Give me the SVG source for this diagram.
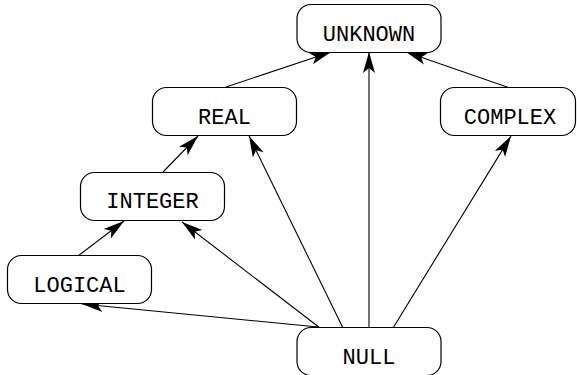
<svg xmlns="http://www.w3.org/2000/svg" width="577" height="375" viewBox="0 0 577 375">
<style>
.node rect{fill:#fff;stroke:#000;stroke-width:1.2}
.node text{font-family:"Liberation Mono",monospace;font-size:22px;text-anchor:middle;fill:#000}
.edge line{stroke:#000;stroke-width:1.1;marker-end:url(#ah)}
</style>
<defs>
<marker id="ah" viewBox="-22 -7 23 14" refX="0" refY="0" markerWidth="23" markerHeight="14" markerUnits="userSpaceOnUse" orient="auto">
<path d="M0,0 L-21,-6 L-16,0 L-21,6 Z" fill="#000"/>
</marker>
</defs>
<g id="edges" class="edge">
<line x1="226" y1="87" x2="331" y2="52"/>
<line x1="369" y1="328" x2="369" y2="52"/>
<line x1="510" y1="88" x2="406" y2="52"/>
<line x1="163" y1="172" x2="198" y2="136"/>
<line x1="343" y1="328" x2="249" y2="136"/>
<line x1="78" y1="256" x2="124" y2="221"/>
<line x1="320" y1="328" x2="182" y2="222"/>
<line x1="318" y1="327" x2="82" y2="304"/>
<line x1="393" y1="328" x2="511" y2="136"/>
</g>
<g id="UNKNOWN" class="node"><rect x="297" y="4.5" width="144" height="48" rx="14"/><text x="369" y="41">UNKNOWN</text></g>
<g id="REAL" class="node"><rect x="152.5" y="87.5" width="144" height="48" rx="14"/><text x="224.5" y="124">REAL</text></g>
<g id="COMPLEX" class="node"><rect x="440.5" y="87.5" width="135" height="48" rx="14"/><text x="510" y="124">COMPLEX</text></g>
<g id="INTEGER" class="node"><rect x="80.5" y="172.5" width="144" height="48" rx="14"/><text x="152.5" y="208">INTEGER</text></g>
<g id="LOGICAL" class="node"><rect x="7.5" y="255.5" width="144" height="48" rx="14"/><text x="79.5" y="292">LOGICAL</text></g>
<g id="NULL" class="node"><rect x="297" y="327.5" width="144" height="48" rx="14"/><text x="369" y="364">NULL</text></g>
</svg>
